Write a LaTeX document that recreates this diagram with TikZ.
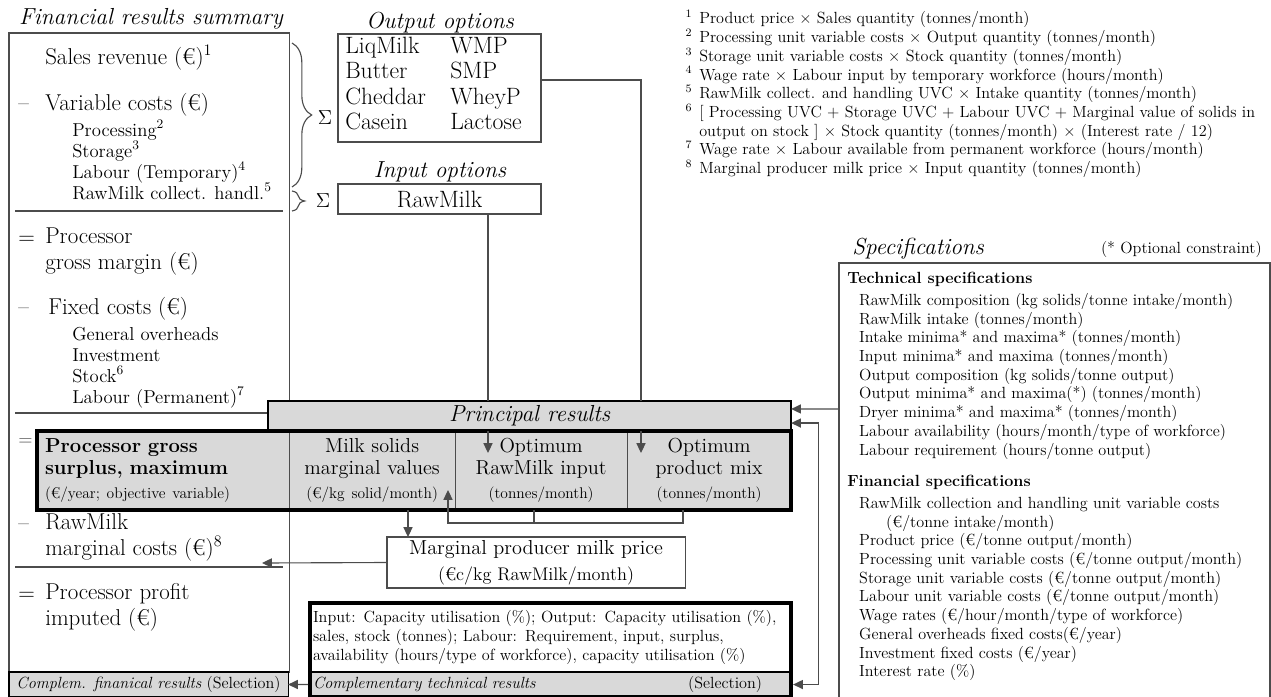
\documentclass[tikz,border=0pt]{standalone}
\usepackage{fontspec}
\usepackage{tikz}
\usetikzlibrary{arrows.meta,positioning,fit,decorations.pathreplacing}

\newcommand{\ttlfont}{\fontsize{16.5}{19}\selectfont\itshape}
\newcommand{\bigfont}{\fontsize{16.3}{18}\selectfont}
\newcommand{\optfont}{\fontsize{16.8}{18.1}\selectfont}
\newcommand{\subfont}{\fontsize{13.3}{15}\selectfont}
\newcommand{\cellfont}{\fontsize{14.4}{15.8}\selectfont}
\newcommand{\smfont}{\fontsize{11.5}{13.3}\selectfont}
\newcommand{\unitfont}{\fontsize{11}{13}\selectfont}
\newcommand{\fnum}[1]{\llap{\textsuperscript{#1}\hspace{5pt}}}

\begin{document}
\begin{tikzpicture}[x=0.025cm, y=-0.025cm,
  line/.style={draw=black!70, line width=0.8pt},
  panel/.style={line, anchor=north west, inner sep=0pt, outer sep=0pt},
  res/.style={draw=black, line width=1.2pt, fill=black!15, anchor=north west,
              inner sep=0pt, outer sep=0pt},
  cell/.style={line, fill=black!15, minimum height=1.975cm, inner xsep=0.2cm,
               inner ysep=0pt, outer sep=0pt, font=\cellfont},
  txt/.style={anchor=base west, inner sep=0pt, align=left},
  ttl/.style={anchor=base, inner sep=0pt, font=\ttlfont},
  arr/.style={line, -{Triangle[length=7pt,width=6.5pt]}},
  arrs/.style={line, {Triangle[length=7pt,width=6.5pt]}-{Triangle[length=7pt,width=6.5pt]}},
  brc/.style={line, decorate, decoration={brace, amplitude=#1}}
]
  \useasboundingbox (0,0) rectangle (1271,697);

  % financial results summary (multi-line nodes sit on their last baseline)
  \node[ttl] (fintitle) at (151,24) {Financial results summary};
  \node[panel, minimum width=7cm, minimum height=15.975cm] (finbox) at (9,33) {};
  \node[txt, font=\bigfont] (sales) at (45,64) {Sales revenue (€)\textsuperscript{1}};
  \node[txt, font=\bigfont] (m1) at (18,110) {--};
  \node[txt, font=\bigfont] (varc) at (45,110) {Variable costs (€)};
  \node[txt, font=\subfont] (varsub) at (72,199.3)
    {Processing\textsuperscript{2}\\Storage\textsuperscript{3}\\Labour (Temporary)\textsuperscript{4}\\RawMilk collect. handl.\textsuperscript{5}};
  \draw[line] (15,211) -- (283,211);
  \node[txt, font=\bigfont] (e1) at (18,244) {=};
  \node[txt, font=\bigfont] (pgm) at (45,269.3) {Processor\\gross margin (€)};
  \node[txt, font=\bigfont] (m2) at (18,314) {--};
  \node[txt, font=\bigfont] (fixc) at (48,314) {Fixed costs (€)};
  \node[txt, font=\subfont] (fixsub) at (72,403.3)
    {General overheads\\Investment\\Stock\textsuperscript{6}\\Labour (Permanent)\textsuperscript{7}};
  \draw[line] (15,413) -- (283,413);
  \node[txt, font=\subfont, text=black!70] (e2) at (18,445) {=};
  \node[txt, font=\bigfont] (m3) at (18,530) {--};
  \node[txt, font=\bigfont] (rmc) at (45,555.3) {RawMilk\\marginal costs (€)\textsuperscript{8}};
  \draw[line] (15,567) -- (283,567);
  \node[txt, font=\bigfont] (e3) at (18,600) {=};
  \node[txt, font=\bigfont] (profit) at (45,625.3) {Processor profit\\imputed (€)};
  \node[res, line width=0.8pt, minimum width=6.975cm, minimum height=0.625cm, font=\smfont]
    (compfin) at (9,672) {\textit{Complem. finanical results} (Selection)};

  % options
  \node[ttl] (outtitle) at (440,28) {Output options};
  \node[panel, minimum width=5.075cm, minimum height=2.7cm] (outbox) at (338,34) {};
  \node[txt, font=\optfont] (outl) at (345,129.5) {LiqMilk\\Butter\\Cheddar\\Casein};
  \node[txt, font=\optfont] (outr) at (450,129.5) {WMP\\SMP\\WheyP\\Lactose};
  \node[ttl] (intitle) at (440,177) {Input options};
  \node[panel, minimum width=5.075cm, minimum height=0.75cm, font=\optfont] (inbox) at (338,184) {RawMilk};
  \draw[brc=14pt] (292,43) -- (292,187);
  \node[font=\subfont] (sum1) at (325,118) {$\Sigma$};
  \draw[brc=9pt] (292,191) -- (292,211);
  \node[font=\subfont] (sum2) at (323,201) {$\Sigma$};

  % footnotes
  \node[txt, font=\smfont] (notes) at (699,173.6) {%
    \fnum{1}Product price × Sales quantity (tonnes/month)\\
    \fnum{2}Processing unit variable costs × Output quantity (tonnes/month)\\
    \fnum{3}Storage unit variable costs × Stock quantity (tonnes/month)\\
    \fnum{4}Wage rate × Labour input by temporary workforce (hours/month)\\
    \fnum{5}RawMilk collect. and handling UVC × Intake quantity (tonnes/month)\\
    \fnum{6}[ Processing UVC + Storage UVC + Labour UVC + Marginal value of solids in\\
    output on stock ] × Stock quantity (tonnes/month) × (Interest rate / 12)\\
    \fnum{7}Wage rate × Labour available from permanent workforce (hours/month)\\
    \fnum{8}Marginal producer milk price × Input quantity (tonnes/month)};

  % principal results
  \node[res, minimum width=13.075cm, minimum height=0.75cm, font=\ttlfont] (princ) at (268,401) {Principal results};
  \node[cell, anchor=north west, text width=5.9cm, align=left] (cell1) at (37,431)
    {\textbf{Processor gross}\\\textbf{surplus, maximum}\\[1pt]{\unitfont (€/year; objective variable)}};
  \node[cell, right=0pt of cell1, text width=3.75cm, align=center] (cell2)
    {Milk solids\\marginal values\\[1pt]{\unitfont (€/kg solid/month)}};
  \node[cell, right=0pt of cell2, text width=3.9cm, align=center] (cell3)
    {Optimum\\RawMilk input\\[1pt]{\unitfont (tonnes/month)}};
  \node[cell, right=0pt of cell3, text width=3.7cm, align=center] (cell4)
    {Optimum\\product mix\\[1pt]{\unitfont (tonnes/month)}};
  \node[fit=(cell1)(cell4), draw, line width=2.8pt, inner sep=0pt] (optbox) {};

  \coordinate (idrop) at (488,401);
  \coordinate (odrop) at (641,401);
  \draw[line] ([yshift=5.7pt]outbox.east) -| (odrop);
  \draw[line] (inbox.south -| idrop) -- (idrop);
  \draw[arr] (cell3.north -| idrop) -- ++(0,22);
  \draw[arr] (cell4.north -| odrop) -- ++(0,22);
  \coordinate (c4foot) at (683,510);
  \coordinate (c3foot) at (534,510);
  \coordinate (join) at (448,523);
  \coordinate (c2tip) at (448,490);
  \draw[arr] (c4foot) |- (join) -- (c2tip);
  \draw[line] (c3foot) -- (c3foot |- join);

  % marginal milk price
  \node[panel, minimum width=7.45cm, minimum height=1.275cm, font=\cellfont, align=center] (margbox) at (387,537)
    {Marginal producer milk price\\[3pt]{\fontsize{13}{15}\selectfont (€c/kg RawMilk/month)}};
  \coordinate (mfoot) at (408,510);
  \draw[arr] (mfoot) -- (mfoot |- margbox.north);
  \coordinate (mcost) at (262,563);
  \draw[arr] (margbox.west) -- (mcost);

  % complementary technical results
  \node[panel, draw=none, minimum width=12.025cm, minimum height=1.725cm, text width=11.875cm,
        inner xsep=0.075cm, align=left, font=\smfont] (ctbody) at (310,603)
    {Input: Capacity utilisation (\%); Output: Capacity utilisation (\%),\\
     sales, stock (tonnes); Labour: Requirement, input, surplus,\\
     availability (hours/type of workforce), capacity utilisation (\%)};
  \node[res, line width=0.8pt, below=0pt of ctbody, minimum width=12.025cm, minimum height=0.625cm,
        text width=11.875cm, inner xsep=0.075cm, font=\smfont] (cthead)
    {\textit{Complementary technical results}\hskip 0pt plus 1filll(Selection)\hspace{18.5pt}\mbox{}};
  \node[fit=(ctbody)(cthead), draw, line width=2.8pt, inner sep=0pt] (ctbox) {};
  \draw[arr] (ctbox.west |- cthead.west) -- (compfin.east);

  % specifications
  \node[ttl, anchor=base west] (spectitle) at (852,254) {Specifications};
  \node[txt, anchor=base east, font=\smfont] (optc) at (1262,253) {(* Optional constraint)};
  \draw[line] (839,698) |- (1270,263) -- (1270,698);
  \node[txt, font=\smfont] (techspec) at (847,455.1) {%
    \textbf{Technical specifications}\\[2pt]
    \hspace*{8.5pt}RawMilk composition (kg solids/tonne intake/month)\\
    \hspace*{8.5pt}RawMilk intake (tonnes/month)\\
    \hspace*{8.5pt}Intake minima* and maxima* (tonnes/month)\\
    \hspace*{8.5pt}Input minima* and maxima (tonnes/month)\\
    \hspace*{8.5pt}Output composition (kg solids/tonne output)\\
    \hspace*{8.5pt}Output minima* and maxima(*) (tonnes/month)\\
    \hspace*{8.5pt}Dryer minima* and maxima* (tonnes/month)\\
    \hspace*{8.5pt}Labour availability (hours/month/type of workforce)\\
    \hspace*{8.5pt}Labour requirement (hours/tonne output)};
  \node[txt, font=\smfont] (finspec) at (847,676.8) {%
    \textbf{Financial specifications}\\[2pt]
    \hspace*{8.5pt}RawMilk collection and handling unit variable costs\\
    \hspace*{27.7pt}(€/tonne intake/month)\\
    \hspace*{8.5pt}Product price (€/tonne output/month)\\
    \hspace*{8.5pt}Processing unit variable costs (€/tonne output/month)\\
    \hspace*{8.5pt}Storage unit variable costs (€/tonne output/month)\\
    \hspace*{8.5pt}Labour unit variable costs (€/tonne output/month)\\
    \hspace*{8.5pt}Wage rates (€/hour/month/type of workforce)\\
    \hspace*{8.5pt}General overheads fixed costs(€/year)\\
    \hspace*{8.5pt}Investment fixed costs (€/year)\\
    \hspace*{8.5pt}Interest rate (\%)};
  \coordinate (specw) at (839,409);
  \draw[arr] (specw) -- ([yshift=5pt]princ.east);
  \draw[arrs] ([yshift=-5pt]princ.east) -- ++(27,0) |- (ctbox.east |- cthead.east);
\end{tikzpicture}
\end{document}
